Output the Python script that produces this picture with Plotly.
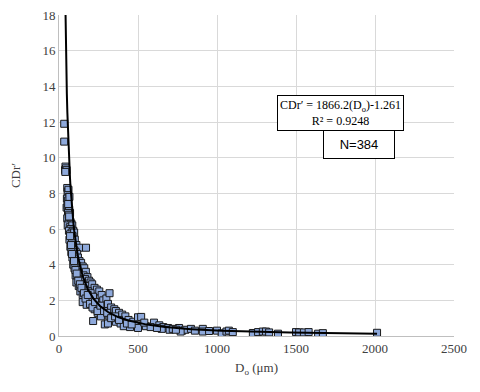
import numpy as np
import plotly.graph_objects as go

# Scatter data (Do in µm, CDr')
do_um = [33,33,38,41,44,48,40,
 52,56,60,55,62,50,58,66,48,54,60,64,70,57,52,62,
 66,72,60,78,55,68,84,74,63,90,80,70,96,86,76,66,92,100,82,110,72,88,127,171,98,106,78,115,92,85,120,100,130,108,90,140,118,125,150,98,135,112,160,145,105,170,128,155,118,180,140,165,110,190,150,200,125,175,210,160,135,225,185,150,240,200,170,255,215,260,190,150,230,270,280,205,245,175,300,320,260,290,225,310,275,330,245,350,300,360,265,380,320,400,340,420,290,310,216,360,440,390,470,500,520,480,410,450,530,550,500,601,635,660,690,650,700,760,780,800,835,770,910,910,1000,1030,1060,1075,1227,1260,1290,1310,1330,1386,1500,1520,1550,1580,1640,1670,2013,
 58,64,70,76,82,95,104,112,122,132,142,158,168,182,196,212,228,244,262,285,305,330,355,380,430,460,540,580,620,720,740,860,950,1100]
cdr = [11.9,10.9,9.3,9.5,9.4,9.3,9.2,
 8.3,8.1,8.2,7.9,7.8,7.7,7.6,7.8,7.2,7.3,7.0,7.1,6.9,6.9,6.6,6.8,
 6.5,6.4,6.3,6.3,6.2,6.1,6.2,6.0,5.9,5.9,5.8,5.7,5.8,5.6,5.5,5.4,5.3,5.4,5.2,5.1,5.0,4.9,4.95,4.95,4.8,4.7,4.7,4.6,4.5,4.4,4.4,4.3,4.2,4.1,4.0,4.1,3.9,3.8,3.9,3.8,3.7,3.6,3.8,3.5,3.4,3.6,3.3,3.4,3.2,3.3,3.1,3.2,3.0,3.1,2.9,3.0,2.8,2.8,2.9,2.6,2.5,2.7,2.5,2.3,2.6,2.4,2.2,2.5,2.2,2.1,2.0,1.9,1.9,2.3,2.0,1.8,1.7,1.75,2.1,2.4,1.5,1.6,1.5,1.8,1.3,1.6,1.3,1.5,1.2,1.4,1.1,1.3,1.0,1.2,0.9,1.1,0.65,0.7,0.84,0.8,0.9,0.7,0.8,1.05,1.07,0.6,0.55,0.5,0.6,0.55,0.45,0.75,0.6,0.5,0.45,0.4,0.35,0.45,0.3,0.35,0.4,0.25,0.4,0.25,0.3,0.15,0.25,0.3,0.17,0.22,0.25,0.25,0.2,0.13,0.22,0.2,0.2,0.22,0.13,0.16,0.18,
 7.4,6.7,5.6,5.1,4.6,4.2,3.7,3.5,3.1,2.9,2.7,2.4,2.1,2.3,1.8,1.6,1.9,1.4,1.7,1.4,1.3,1.0,1.1,0.9,0.7,0.65,0.75,0.5,0.45,0.4,0.35,0.3,0.28,0.22]

# Power-law trendline shown on the chart: CDr' = 1866.2 * Do^-1.261
fit_a = 1866.2
fit_b = -1.261
x_ticks = [0, 500, 1000, 1500, 2000, 2500]
y_ticks = [0, 2, 4, 6, 8, 10, 12, 14, 16, 18]

xt = np.linspace(min(do_um), max(do_um), 600)
yt = fit_a * xt ** fit_b

fig = go.Figure()
fig.add_trace(go.Scatter(x=do_um, y=cdr, mode="markers",
    marker=dict(symbol="square", size=7, color="#8EA9DB",
                line=dict(color="#1a1a1a", width=1)),
    showlegend=False))
fig.add_trace(go.Scatter(x=xt, y=yt, mode="lines",
    line=dict(color="#000000", width=2), showlegend=False))

serif = "Liberation Serif"
tick_font = dict(family=serif, size=13, color="#404040")
fig.update_layout(
    width=480, height=392,
    margin=dict(l=51, r=34, t=7, b=64, autoexpand=False),
    paper_bgcolor="white", plot_bgcolor="white",
    font=dict(family=serif, size=13, color="#404040"),
    xaxis=dict(range=[0, 2500], tickvals=x_ticks, showgrid=True,
               gridcolor="#d9d9d9", gridwidth=1, zeroline=False,
               showline=True, linecolor="#bfbfbf", linewidth=1,
               ticks="", tickfont=tick_font, automargin=False,
               ticklabeloverflow="allow",
               title=dict(text="D<sub>o</sub> (μm)", standoff=8, font=tick_font)),
    yaxis=dict(range=[0, 18], tickvals=y_ticks, showgrid=True,
               gridcolor="#d9d9d9", gridwidth=1, zeroline=False,
               showline=True, linecolor="#bfbfbf", linewidth=1,
               ticks="", tickfont=tick_font, automargin=False,
               ticklabeloverflow="allow",
               title=dict(text="CDr′", standoff=29, font=tick_font)),
)

fig.add_annotation(xref="paper", yref="paper", x=0.7127, y=0.696,
    xanchor="center", yanchor="middle",
    text="CDr′ = 1866.2(D<sub>o</sub>)-1.261<br>R² = 0.9248",
    showarrow=False, font=dict(family=serif, size=12, color="#000000"),
    bgcolor="white", bordercolor="#000000", borderwidth=1, borderpad=2,
    align="center")
fig.add_annotation(xref="paper", yref="paper", x=0.7595, y=0.598,
    xanchor="center", yanchor="middle",
    text="N=384", showarrow=False,
    font=dict(family="Liberation Sans", size=13, color="#000000"),
    bgcolor="white", bordercolor="#000000", borderwidth=1, borderpad=6,
    align="center", width=58)

fig.write_html("out.html")
